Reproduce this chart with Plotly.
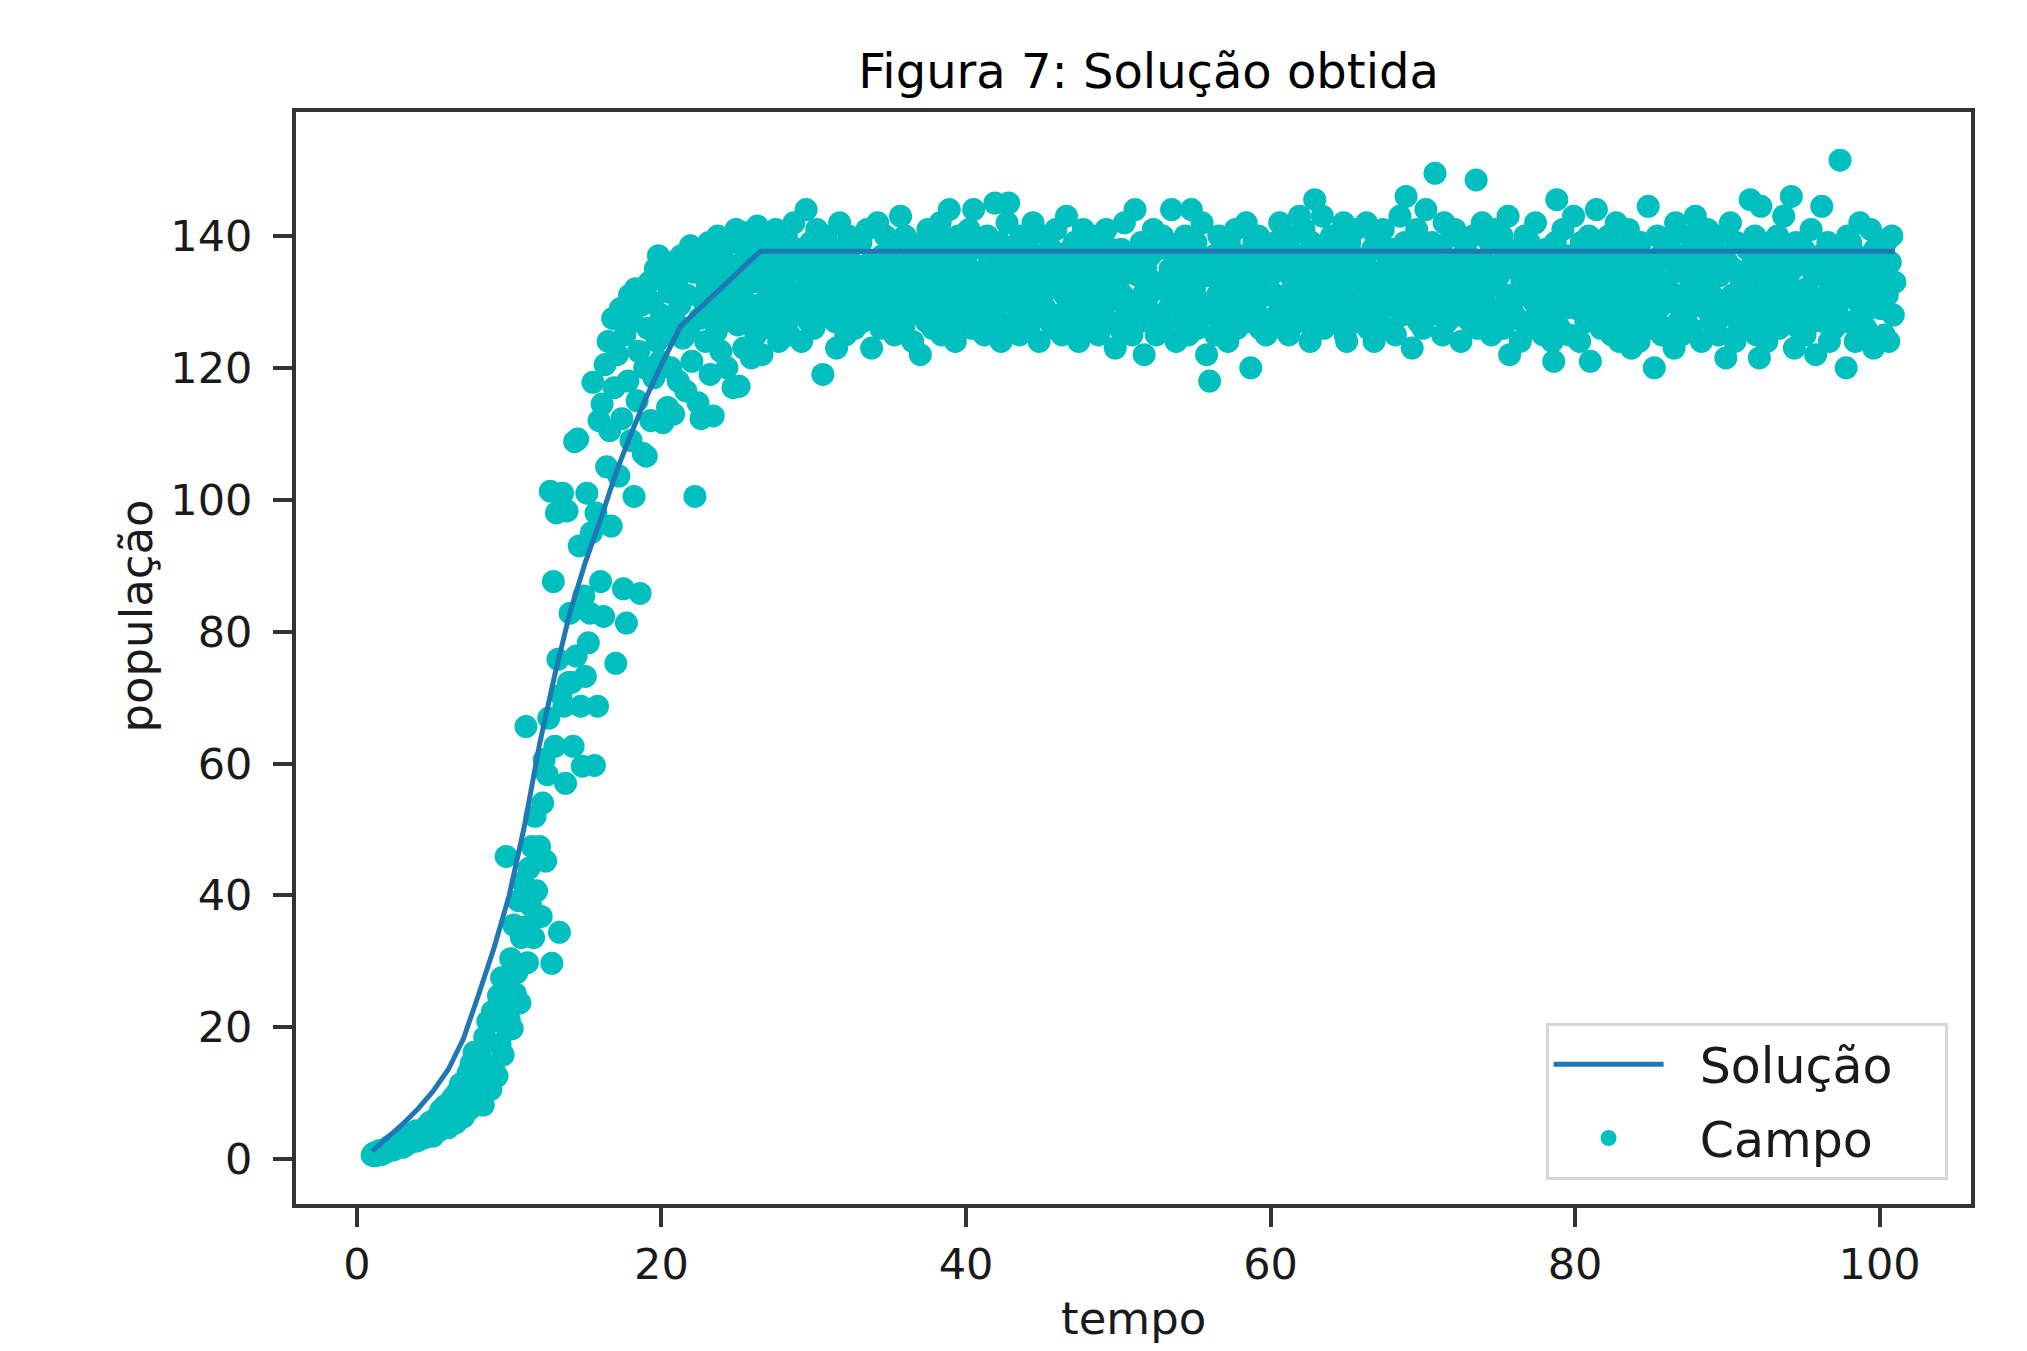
import plotly.graph_objects as go

# ---------------- data ----------------
# "Campo" (field) observations, sampled every 0.1 time units starting at t = 1.0
T_START = 1.0
T_STEP = 0.1

campo_growth = [
    0.6, 0.9, 0.5, 1.1, 0.8, 1.3, 0.7, 1.2, 1.0, 1.4,
    1.2, 1.9, 1.5, 2.2, 1.4, 2.5, 1.8, 2.8, 2.0, 3.0,
    1.8, 2.6, 2.1, 3.2, 2.4, 3.6, 2.9, 4.0, 2.7, 4.3,
    2.8, 3.6, 3.1, 4.4, 3.8, 3.3, 5.0, 4.1, 5.6, 4.6,
    3.5, 5.0, 6.2, 4.2, 5.8, 7.4, 4.6, 6.8, 8.1, 5.4,
    4.8, 7.6, 6.0, 9.3, 6.9, 5.5, 10.2, 8.0, 11.4, 7.2,
    6.4, 10.8, 8.5, 13.0, 7.6, 14.5, 9.8, 16.2, 8.4, 12.6,
    9.0, 15.8, 12.4, 8.2, 18.5, 11.3, 20.9, 14.0, 10.6, 22.4,
    13.5, 21.0, 12.6, 24.8, 17.4, 27.5, 15.8, 22.1, 45.9, 19.6,
    21.2, 30.4, 19.8, 35.5, 25.1, 28.3, 39.2, 23.7, 33.6, 42.0,
    35.2, 65.6, 29.8, 44.1, 38.5, 47.4, 33.6, 52.0, 40.7, 36.8,
    47.4, 36.8, 54.0, 60.6, 45.2, 58.3, 66.9, 101.3, 29.7, 87.6,
    62.6, 98.0, 75.8, 34.4, 70.4, 101.0, 68.7, 57.0, 98.3, 72.3,
    82.8, 72.3, 62.6, 108.8, 76.3, 109.2, 93.0, 68.7, 59.6, 85.4,
    73.2, 101.0, 78.3, 82.8, 95.0, 117.8, 59.7, 98.0, 68.7, 112.0,
    87.6, 114.5, 82.3, 120.5, 105.0, 124.0, 110.5, 96.0, 127.5, 117.0,
    75.2, 122.0, 103.6, 129.0, 112.3, 86.5, 125.0, 81.3, 118.0, 131.0,
    109.0, 127.0, 100.5, 132.0, 115.0, 122.5, 85.8, 129.5, 107.0, 120.0,
    106.6, 126.0, 133.0, 112.0, 130.0, 118.5, 135.0, 124.0, 137.0, 121.0,
    128.0, 111.7, 134.0, 125.0, 114.0, 131.5, 120.0, 136.0, 113.0, 127.0,
    133.0, 118.0, 129.5, 137.0, 124.5, 135.0, 116.5, 131.0, 126.0, 138.5,
    121.0, 134.5, 100.5, 138.0, 114.7, 127.5, 112.3, 136.0, 130.0, 124.0,
    132.5, 139.0, 119.0, 128.0, 112.7, 135.0, 125.5, 140.0, 130.5, 122.5,
    137.0, 127.0, 133.5, 120.0, 139.5, 129.0, 135.5, 117.0, 131.0, 141.0,
    126.5, 117.2, 134.0, 138.5, 123.0, 130.0, 140.5, 128.0, 136.0, 121.5,
    133.0, 139.0, 125.0, 141.5, 129.5, 136.5, 122.0, 134.0, 140.0, 127.5,
]

campo_plateau_a = [
    131, 138, 126, 135, 129, 141, 133, 124, 137, 130,
    134, 127, 140, 132, 125, 136, 130, 142, 128, 135,
    138, 131, 124, 136, 129, 144, 133, 127, 139, 131,
    126, 135, 141, 130, 137, 128, 119, 134, 140, 132,
    129, 136, 131, 138, 127, 123, 135, 142, 130, 133,
    137, 125, 133, 140, 128, 136, 131, 126, 139, 134,
    132, 139, 127, 135, 130, 141, 128, 136, 123, 133,
    135, 129, 142, 131, 126, 137, 133, 140, 127, 130,
    128, 136, 132, 125, 139, 134, 129, 143, 131, 126,
    140, 130, 135, 128, 137, 124, 133, 138, 129, 136,
    122, 134, 139, 131, 127, 141, 130, 135, 126, 138,
    133, 128, 136, 142, 125, 132, 139, 129, 134, 144,
    130, 137, 127, 124, 135, 140, 131, 128, 138, 133,
    136, 129, 141, 132, 126, 144, 134, 130, 139, 127,
    131, 138, 125, 135, 140, 129, 133, 127, 136, 145,
    128, 134, 139, 124, 131, 137, 126, 142, 145, 132,
    135, 130, 127, 138, 133, 125, 140, 131, 136, 129,
    139, 126, 134, 131, 142, 128, 135, 137, 124, 133,
    130, 136, 129, 140, 132, 127, 138, 134, 126, 141,
    134, 128, 137, 125, 135, 131, 143, 129, 133, 138,
    127, 139, 132, 136, 124, 134, 130, 141, 128, 135,
    137, 131, 126, 140, 133, 129, 136, 125, 139, 132,
    129, 135, 141, 130, 127, 138, 132, 134, 123, 136,
    133, 126, 138, 131, 142, 128, 135, 130, 137, 125,
    136, 144, 130, 134, 127, 139, 131, 122, 135, 129,
    131, 137, 128, 141, 133, 125, 138, 132, 127, 140,
    126, 133, 139, 129, 135, 144, 130, 136, 124, 132,
    138, 130, 134, 127, 140, 131, 125, 137, 144, 129,
    132, 139, 126, 135, 130, 142, 128, 134, 122, 136,
    118, 134, 129, 137, 125, 131, 140, 127, 135, 133,
    130, 136, 124, 139, 132, 128, 135, 141, 126, 134,
    137, 128, 133, 130, 142, 127, 136, 120, 131, 139,
    129, 135, 140, 126, 133, 138, 131, 125, 137, 132,
    134, 127, 131, 139, 128, 136, 142, 130, 126, 135,
    131, 138, 125, 134, 140, 129, 133, 137, 127, 143,
    136, 130, 141, 127, 135, 132, 124, 139, 131, 145.5,
    128, 137, 133, 130, 143, 126, 135, 138, 129, 134,
]

campo_plateau_b = [
    140, 131, 127, 136, 132, 139, 128, 134, 142, 125,
    124, 135, 139, 130, 137, 127, 141, 133, 129, 136,
    133, 128, 136, 142, 126, 134, 131, 138, 124, 140,
    127, 139, 132, 129, 141, 135, 126, 137, 133, 130,
    138, 131, 125, 136, 130, 143, 128, 134, 139, 146,
    132, 136, 129, 123, 138, 131, 141, 127, 135, 130,
    126, 134, 144, 131, 137, 128, 139, 133, 149.5, 129,
    135, 130, 138, 125, 142, 132, 127, 136, 131, 140,
    129, 141, 133, 136, 128, 124, 137, 131, 139, 134,
    137, 127, 132, 140, 130, 148.5, 126, 135, 129, 142,
    131, 136, 128, 134, 139, 125, 133, 141, 127, 135,
    134, 129, 140, 126, 137, 131, 143, 122, 136, 130,
    128, 135, 131, 138, 124, 133, 127, 140, 132, 137,
    139, 126, 136, 130, 142, 128, 134, 129, 135, 125,
    133, 138, 127, 131, 136, 124, 121, 139, 145.5, 130,
    126, 134, 141, 129, 132, 137, 125, 135, 130, 143,
    136, 129, 133, 124, 139, 131, 138, 127, 134, 140,
    121, 135, 130, 137, 144, 128, 133, 126, 139, 131,
    134, 127, 140, 131, 125, 136, 129, 142, 132, 124,
    130, 138, 126, 135, 133, 141, 128, 123, 137, 129,
    137, 131, 124, 139, 127, 134, 130, 136, 144.5, 126,
    128, 135, 120, 132, 140, 129, 137, 125, 133, 138,
    133, 126, 139, 130, 136, 123, 142, 131, 127, 135,
    125, 137, 131, 128, 134, 140, 126, 136, 130, 143,
    139, 130, 135, 124, 132, 138, 129, 141, 133, 127,
    131, 136, 127, 140, 125, 134, 130, 137, 128, 121.5,
    136, 128, 142, 131, 135, 124, 139, 130, 126, 133,
    129, 134, 126, 138, 131, 145.5, 127, 136, 140, 125,
    135, 121.5, 144.5, 129, 133, 137, 124, 131, 139, 128,
    127, 136, 131, 140, 126, 134, 129, 143, 132, 138,
    133, 128, 146, 135, 123, 139, 130, 126, 137, 131,
    138, 125, 132, 136, 129, 141, 127, 134, 122, 135,
    130, 137, 144.5, 127, 134, 131, 139, 124, 136, 128,
    126, 133, 129, 138, 151.5, 131, 135, 127, 120, 140,
    134, 139, 127, 132, 124, 137, 130, 142, 128, 135,
    131, 126, 136, 129, 141, 133, 123, 138, 130, 134,
    137, 129, 134, 125, 139, 131, 124, 136, 140, 128,
    133,
]

# "Solução" (model solution) curve
sol_t = [1, 2, 3, 4, 5, 6, 7, 8, 9, 10, 11, 12, 13, 14, 15, 16, 17, 18, 19, 20,
         21, 21.25, 26.5, 101]
sol_y = [1.2, 3.2, 5.3, 7.6, 10.3, 13.6, 18.3, 25.0, 32.0, 40.0, 50.5, 63.0,
         73.5, 83.0, 90.5, 97.0, 104.0, 110.0, 115.5, 120.5, 125.0, 126.3,
         137.7, 137.7]

x_ticks = [0, 20, 40, 60, 80, 100]
y_ticks = [0, 20, 40, 60, 80, 100, 120, 140]

TITLE = "Figura 7: Solução obtida"
X_LABEL = "tempo"
Y_LABEL = "população"
NAME_SOL = "Solução"
NAME_CAMPO = "Campo"

# ---------------- figure ----------------
campo_y = campo_growth + campo_plateau_a + campo_plateau_b
campo_t = [round(T_START + i * T_STEP, 1) for i in range(len(campo_y))]

FONT = "DejaVu Sans"
AX_COLOR = "#333333"
TXT = "#1a1a1a"
PAD_L = "\u00a0\u00a0"        # gap between legend symbol and text
PAD_R = "\u00a0\u00a0\u00a0"  # right padding inside the legend box

# page body has an 8px margin: the figure is shrunk by 8px so the plot area lands
# where it should in the 2027x1351 window
W, H = 2019, 1343

fig = go.Figure()

fig.add_trace(go.Scatter(
    x=campo_t, y=campo_y, mode="markers", name=PAD_L + NAME_CAMPO + PAD_R,
    legendgroup="b", legendrank=2,
    marker=dict(color="#00bfbf", size=23, line=dict(width=0)),
))

fig.add_trace(go.Scatter(
    x=sol_t, y=sol_y, mode="lines", name=PAD_L + NAME_SOL + PAD_R,
    legendgroup="a", legendrank=1,
    line=dict(color="#1f77b4", width=5),
))

axis_common = dict(
    showgrid=False, zeroline=False,
    showline=True, mirror=True, linecolor=AX_COLOR, linewidth=4,
    ticks="outside", ticklen=19, tickwidth=4, tickcolor=AX_COLOR,
    tickfont=dict(family=FONT, size=43, color=TXT),
)

fig.update_xaxes(range=[-4, 106], tickvals=x_ticks, **axis_common)
fig.update_yaxes(range=[-6.8, 158.8], tickvals=y_ticks, ticklabelstandoff=12,
                 **axis_common)

fig.update_layout(
    width=W, height=H, autosize=False,
    margin=dict(l=288, r=56, t=104, b=147),
    paper_bgcolor="white", plot_bgcolor="white",
    title=dict(text=TITLE, x=0.509, xref="paper", xanchor="center",
               y=1 - 63 / H, yref="container", yanchor="middle",
               font=dict(family=FONT, size=48, color="black")),
    showlegend=True,
    legend=dict(
        x=0.986, y=0.022, xanchor="right", yanchor="bottom",
        bgcolor="white", bordercolor="#d6d6d6", borderwidth=3,
        font=dict(family=FONT, size=49, color=TXT),
        traceorder="grouped", tracegroupgap=7,
        itemwidth=110,
    ),
    annotations=[
        dict(text=X_LABEL, xref="paper", yref="paper", x=0.5, y=-0.1044,
             xanchor="center", yanchor="middle", showarrow=False,
             font=dict(family=FONT, size=45, color=TXT)),
        dict(text=Y_LABEL, xref="paper", yref="paper", x=-0.0955, y=0.538,
             xanchor="center", yanchor="middle", showarrow=False, textangle=-90,
             font=dict(family=FONT, size=45, color=TXT)),
    ],
)

fig.write_html("out.html")
